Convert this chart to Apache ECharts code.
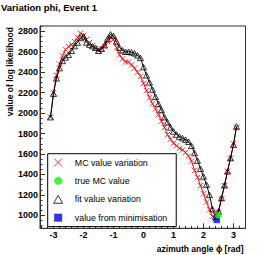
<!DOCTYPE html>
<html><head><meta charset="utf-8">
<script src="https://cdn.jsdelivr.net/npm/echarts@6/dist/echarts.min.js"></script>
<style>html,body{margin:0;padding:0;background:#fff}#c{width:267px;height:255px}</style>
</head><body><div id="c"></div>
<script>
// ---- data ----
const phi = [-3.1,-3.0,-2.9,-2.8,-2.7,-2.6,-2.5,-2.4,-2.3,-2.2,-2.1,-2.0,-1.9,-1.8,-1.7,-1.6,-1.5,-1.4,-1.3,-1.2,-1.1,-1.0,-0.9,-0.8,-0.7,-0.6,-0.5,-0.4,-0.3,-0.2,-0.1,0.0,0.1,0.2,0.3,0.4,0.5,0.6,0.7,0.8,0.9,1.0,1.1,1.2,1.3,1.4,1.5,1.6,1.7,1.8,1.9,2.0,2.1,2.2,2.3,2.4,2.5,2.6,2.7,2.8,2.9,3.0,3.1];
const mcValues = [1960,2200,2370,2480,2560,2620,2650,2670,2700,2740,2780,2760,2720,2690,2660,2630,2615,2625,2650,2700,2745,2720,2640,2570,2530,2500,2500,2470,2440,2400,2360,2290,2220,2150,2090,2040,1985,1920,1860,1790,1745,1705,1680,1655,1640,1615,1580,1530,1440,1370,1290,1210,1130,1055,990,970,1030,1160,1290,1430,1560,1700,1860];
const fitValues = [1960,2190,2340,2440,2510,2545,2570,2610,2655,2690,2735,2750,2690,2670,2655,2640,2610,2630,2665,2725,2770,2755,2700,2640,2615,2600,2600,2595,2585,2565,2540,2450,2370,2300,2230,2160,2090,2030,1960,1910,1860,1820,1790,1770,1755,1740,1720,1680,1610,1535,1455,1380,1300,1200,1060,985,1040,1170,1295,1430,1560,1690,1870];
const trueMC = [[2.49, 1000]];
const minimisation = [[2.44, 955]];
const xTicks = [-3,-2,-1,0,1,2,3];
const yTicks = [1000,1200,1400,1600,1800,2000,2200,2400,2600,2800];

const xMin = -3.45, xMax = 3.4, yMin = 873, yMax = 2852;
const xMinor = []; for (let v = -3.4; v <= 3.41; v += 0.2) xMinor.push(Math.round(v*10)/10);
const yMinor = []; for (let v = 900; v <= 2850; v += 50) yMinor.push(v);

const FONT = '"Liberation Sans", Arial, sans-serif';
const crossPath = 'path://M0,0L10,10M10,0L0,10';
const triPath = 'path://M5,0L10,9L0,9Z';
const squarePath = 'path://M0,0L10,0L10,10L0,10Z';

const chart = echarts.init(document.getElementById('c'), null, {renderer:'svg'});
chart.setOption({
  animation:false,
  backgroundColor:'#fff',
  title:{text:'Variation phi, Event 1', left:1, top:2, padding:0,
    textStyle:{fontFamily:FONT, fontSize:9.5, fontWeight:'bold', color:'#000'}},
  grid:{left:40, top:26, right:21.5, bottom:26.7, show:true, borderColor:'#333', borderWidth:1, backgroundColor:'transparent'},
  xAxis:[{
    type:'value', min:xMin, max:xMax,
    axisLine:{onZero:false, lineStyle:{color:'#333', width:1}},
    axisTick:{inside:true, length:5, customValues:xTicks, lineStyle:{color:'#333'}},
    axisLabel:{customValues:xTicks, margin:2, fontFamily:FONT, fontSize:9, fontWeight:'bold', color:'#000', formatter:v=>String(v)},
    splitLine:{show:false}
  },{
    type:'value', min:xMin, max:xMax, position:'bottom',
    axisLine:{show:false, onZero:false},
    axisTick:{inside:true, length:2.5, customValues:xMinor, lineStyle:{color:'#333'}},
    axisLabel:{show:false}, splitLine:{show:false}
  }],
  yAxis:[{
    type:'value', min:yMin, max:yMax,
    axisLine:{show:true, onZero:false, lineStyle:{color:'#333', width:1}},
    axisTick:{show:true, inside:true, length:5, customValues:yTicks, lineStyle:{color:'#333'}},
    axisLabel:{customValues:yTicks, margin:2, fontFamily:FONT, fontSize:9, fontWeight:'bold', color:'#000', formatter:v=>String(v)},
    splitLine:{show:false}
  },{
    type:'value', min:yMin, max:yMax, position:'left',
    axisLine:{show:false, onZero:false},
    axisTick:{show:true, inside:true, length:2.5, customValues:yMinor, lineStyle:{color:'#333'}},
    axisLabel:{show:false}, splitLine:{show:false}
  }],
  legend:{
    orient:'vertical', left:47.7, top:153.7,
    padding:[4.3, 9, 4.4, 5.6],
    itemWidth:23.4, itemHeight:8, itemGap:9.4,
    borderColor:'#000', borderWidth:1, backgroundColor:'#fff',
    textStyle:{fontFamily:FONT, fontSize:8.8, color:'#000', lineHeight:8},
    data:[
      {name:'MC value variation', icon:crossPath, itemStyle:{color:'transparent', borderColor:'#f00', borderWidth:0.8}},
      {name:'true MC value', icon:'circle', itemStyle:{color:'#0f0', borderWidth:0}},
      {name:'fit value variation', icon:triPath, itemStyle:{color:'transparent', borderColor:'#000', borderWidth:0.8}},
      {name:'value from minimisation', icon:squarePath, itemStyle:{color:'#00f', borderWidth:0}}
    ],
    z:10
  },
  series:[
    {name:'MC value variation', type:'line', data:phi.map((p,i)=>[p, mcValues[i]]),
      symbol:crossPath, symbolSize:5.5, showAllSymbol:true,
      lineStyle:{color:'#f00', width:1},
      itemStyle:{color:'transparent', borderColor:'#f00', borderWidth:0.8}, z:2},
    {name:'fit value variation', type:'line', data:phi.map((p,i)=>[p, fitValues[i]]),
      symbol:triPath, symbolSize:[6,5.5], showAllSymbol:true,
      lineStyle:{color:'#000', width:1},
      itemStyle:{color:'transparent', borderColor:'#000', borderWidth:0.8}, z:3},
    {name:'value from minimisation', type:'scatter', data:minimisation,
      symbol:'rect', symbolSize:6.5, itemStyle:{color:'#00f'}, z:4},
    {name:'true MC value', type:'scatter', data:trueMC,
      symbol:'circle', symbolSize:6.5, itemStyle:{color:'#0f0'}, z:5}
  ],
  graphic:[
    {type:'text', right:267-243.5, top:244, style:{text:'azimuth angle ϕ [rad]', font:'bold 8.5px '+FONT, fill:'#000', textAlign:'right'}},
    {type:'text', left:5, top:27, rotation:Math.PI/2, style:{text:'value of log likelihood', font:'bold 8.5px '+FONT, fill:'#000', textAlign:'right', textVerticalAlign:'top'}}
  ]
});
</script></body></html>
